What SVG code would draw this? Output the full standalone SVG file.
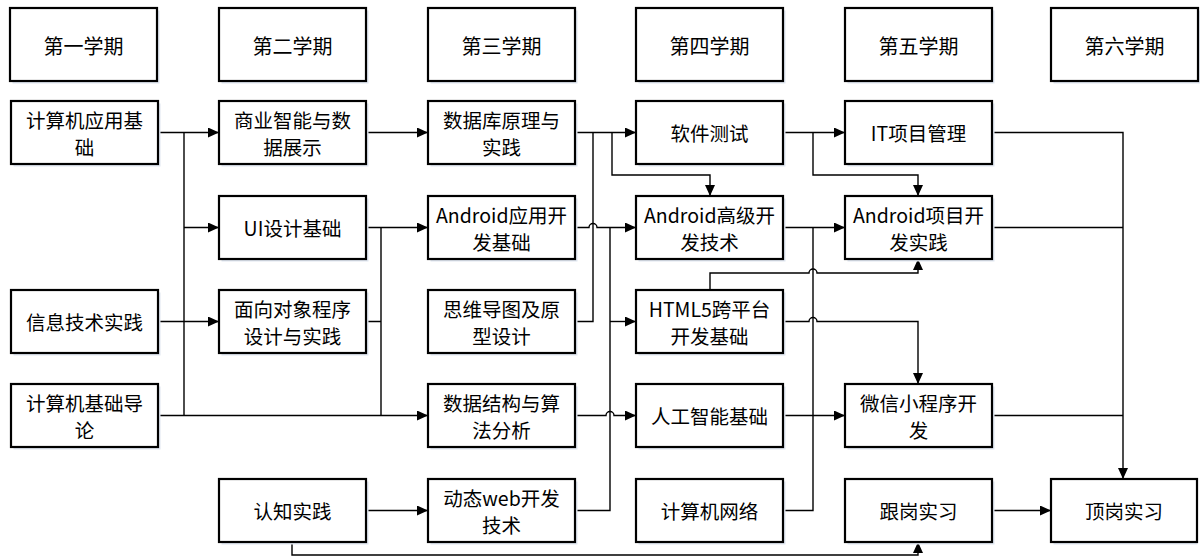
<svg xmlns="http://www.w3.org/2000/svg" width="1200" height="557" viewBox="0 0 1200 557">
<defs>
<style>
.box{fill:#fff;stroke:#000;stroke-width:2.2}
.sh{fill:#dfe6f0}
.t{font-family:"Noto Sans CJK SC","Noto Sans",sans-serif;font-size:19.5px;fill:#000;text-anchor:middle;dominant-baseline:central}
.h{font-size:20px}
.c{fill:none;stroke:#000;stroke-width:1.4}
.a{marker-end:url(#arr)}
</style>
<marker id="arr" markerUnits="userSpaceOnUse" markerWidth="11" markerHeight="10" refX="11" refY="5" orient="auto">
<path d="M0,0 L11,5 L0,10 z" fill="#000"/>
</marker>
</defs>
<rect width="1200" height="557" fill="#fff"/>

<g id="connectors">
<path class="c a" d="M158,132.5 H219"/>
<path class="c" d="M184,132.5 V415.5"/>
<path class="c a" d="M184,227.5 H219"/>
<path class="c a" d="M158,321.5 H219"/>
<path class="c a" d="M158,415.5 H428"/>
<path class="c a" d="M366,132.5 H428"/>
<path class="c a" d="M366,227.5 H428"/>
<path class="c" d="M381,227.5 V415.5 M366,321.5 H381"/>
<path class="c a" d="M366,510.5 H428"/>
<path class="c a" d="M292,542 V555 H918 V542"/>
<path class="c a" d="M575,132.5 H636"/>
<path class="c" d="M593,132.5 V321.5 H575"/>
<path class="c a" d="M612,132.5 V175 H710 V196"/>
<path class="c a" d="M575,227.5 H589 A4,4 0 0 1 597,227.5 H636"/>
<path class="c" d="M610,227.5 V510.5 H575"/>
<path class="c a" d="M610,321.5 H636"/>
<path class="c a" d="M575,415.5 H606 A4,4 0 0 1 614,415.5 H636"/>
<path class="c a" d="M783,132.5 H845"/>
<path class="c a" d="M813,132.5 V175 H918 V196"/>
<path class="c a" d="M783,227.5 H845"/>
<path class="c" d="M813,227.5 V510.5 H783"/>
<path class="c a" d="M783,415.5 H845"/>
<path class="c a" d="M710,290 V273 H809 A4,4 0 0 1 817,273 H918 V259"/>
<path class="c a" d="M783,321.5 H809 A4,4 0 0 1 817,321.5 H918 V384"/>
<path class="c a" d="M992,132.5 H1123 V479"/>
<path class="c" d="M992,227.5 H1123 M992,415.5 H1123"/>
<path class="c a" d="M992,510.5 H1051"/>
</g>

<g id="h1"><rect class="sh" x="12.5" y="10.5" width="147" height="73"/><rect class="box" x="10" y="8" width="147" height="73"/><text class="t h" x="83.5" y="45">第一学期</text></g>
<g id="h2"><rect class="sh" x="221.5" y="10.5" width="147" height="73"/><rect class="box" x="219" y="8" width="147" height="73"/><text class="t h" x="292.5" y="45">第二学期</text></g>
<g id="h3"><rect class="sh" x="430.5" y="10.5" width="147" height="73"/><rect class="box" x="428" y="8" width="147" height="73"/><text class="t h" x="501.5" y="45">第三学期</text></g>
<g id="h4"><rect class="sh" x="638.5" y="10.5" width="147" height="73"/><rect class="box" x="636" y="8" width="147" height="73"/><text class="t h" x="709.5" y="45">第四学期</text></g>
<g id="h5"><rect class="sh" x="847.5" y="10.5" width="147" height="73"/><rect class="box" x="845" y="8" width="147" height="73"/><text class="t h" x="918.5" y="45">第五学期</text></g>
<g id="h6"><rect class="sh" x="1053.5" y="10.5" width="147" height="73"/><rect class="box" x="1051" y="8" width="147" height="73"/><text class="t h" x="1124.5" y="45">第六学期</text></g>

<g id="n-jsjyyjc"><rect class="sh" x="13.5" y="103.5" width="147" height="63"/><rect class="box" x="11" y="101" width="147" height="63"/><text class="t" x="84.5" y="119">计算机应用基</text><text class="t" x="84.5" y="146">础</text></g>
<g id="n-xxjssj"><rect class="sh" x="13.5" y="292.5" width="147" height="63"/><rect class="box" x="11" y="290" width="147" height="63"/><text class="t" x="84.5" y="321.5">信息技术实践</text></g>
<g id="n-jsjjcdl"><rect class="sh" x="13.5" y="386.5" width="147" height="63"/><rect class="box" x="11" y="384" width="147" height="63"/><text class="t" x="84.5" y="402">计算机基础导</text><text class="t" x="84.5" y="429">论</text></g>

<g id="n-syzn"><rect class="sh" x="221.5" y="103.5" width="147" height="63"/><rect class="box" x="219" y="101" width="147" height="63"/><text class="t" x="292.5" y="119">商业智能与数</text><text class="t" x="292.5" y="146">据展示</text></g>
<g id="n-ui"><rect class="sh" x="221.5" y="198.5" width="147" height="63"/><rect class="box" x="219" y="196" width="147" height="63"/><text class="t" x="292.5" y="227.5">UI设计基础</text></g>
<g id="n-mxdx"><rect class="sh" x="221.5" y="292.5" width="147" height="63"/><rect class="box" x="219" y="290" width="147" height="63"/><text class="t" x="292.5" y="308">面向对象程序</text><text class="t" x="292.5" y="335">设计与实践</text></g>
<g id="n-rzsj"><rect class="sh" x="221.5" y="481.5" width="147" height="63"/><rect class="box" x="219" y="479" width="147" height="63"/><text class="t" x="292.5" y="510.5">认知实践</text></g>

<g id="n-sjk"><rect class="sh" x="430.5" y="103.5" width="147" height="63"/><rect class="box" x="428" y="101" width="147" height="63"/><text class="t" x="501.5" y="119">数据库原理与</text><text class="t" x="501.5" y="146">实践</text></g>
<g id="n-android1"><rect class="sh" x="430.5" y="198.5" width="147" height="63"/><rect class="box" x="428" y="196" width="147" height="63"/><text class="t" x="501.5" y="214">Android应用开</text><text class="t" x="501.5" y="241">发基础</text></g>
<g id="n-swdt"><rect class="sh" x="430.5" y="292.5" width="147" height="63"/><rect class="box" x="428" y="290" width="147" height="63"/><text class="t" x="501.5" y="308">思维导图及原</text><text class="t" x="501.5" y="335">型设计</text></g>
<g id="n-sjjg"><rect class="sh" x="430.5" y="386.5" width="147" height="63"/><rect class="box" x="428" y="384" width="147" height="63"/><text class="t" x="501.5" y="402">数据结构与算</text><text class="t" x="501.5" y="429">法分析</text></g>
<g id="n-dtweb"><rect class="sh" x="430.5" y="481.5" width="147" height="63"/><rect class="box" x="428" y="479" width="147" height="63"/><text class="t" x="501.5" y="497">动态web开发</text><text class="t" x="501.5" y="524">技术</text></g>

<g id="n-rjcs"><rect class="sh" x="638.5" y="103.5" width="147" height="63"/><rect class="box" x="636" y="101" width="147" height="63"/><text class="t" x="709.5" y="132.5">软件测试</text></g>
<g id="n-android2"><rect class="sh" x="638.5" y="198.5" width="147" height="63"/><rect class="box" x="636" y="196" width="147" height="63"/><text class="t" x="709.5" y="214">Android高级开</text><text class="t" x="709.5" y="241">发技术</text></g>
<g id="n-html5"><rect class="sh" x="638.5" y="292.5" width="147" height="63"/><rect class="box" x="636" y="290" width="147" height="63"/><text class="t" x="709.5" y="308">HTML5跨平台</text><text class="t" x="709.5" y="335">开发基础</text></g>
<g id="n-rgzn"><rect class="sh" x="638.5" y="386.5" width="147" height="63"/><rect class="box" x="636" y="384" width="147" height="63"/><text class="t" x="709.5" y="415.5">人工智能基础</text></g>
<g id="n-jsjwl"><rect class="sh" x="638.5" y="481.5" width="147" height="63"/><rect class="box" x="636" y="479" width="147" height="63"/><text class="t" x="709.5" y="510.5">计算机网络</text></g>

<g id="n-itxm"><rect class="sh" x="847.5" y="103.5" width="147" height="63"/><rect class="box" x="845" y="101" width="147" height="63"/><text class="t" x="918.5" y="132.5">IT项目管理</text></g>
<g id="n-android3"><rect class="sh" x="847.5" y="198.5" width="147" height="63"/><rect class="box" x="845" y="196" width="147" height="63"/><text class="t" x="918.5" y="214">Android项目开</text><text class="t" x="918.5" y="241">发实践</text></g>
<g id="n-wx"><rect class="sh" x="847.5" y="386.5" width="147" height="63"/><rect class="box" x="845" y="384" width="147" height="63"/><text class="t" x="918.5" y="402">微信小程序开</text><text class="t" x="918.5" y="429">发</text></g>
<g id="n-ggsx"><rect class="sh" x="847.5" y="481.5" width="147" height="63"/><rect class="box" x="845" y="479" width="147" height="63"/><text class="t" x="918.5" y="510.5">跟岗实习</text></g>

<g id="n-dgsx"><rect class="sh" x="1053.5" y="481.5" width="144" height="63"/><rect class="box" x="1051" y="479" width="146" height="63"/><text class="t" x="1124" y="510.5">顶岗实习</text></g>
</svg>
